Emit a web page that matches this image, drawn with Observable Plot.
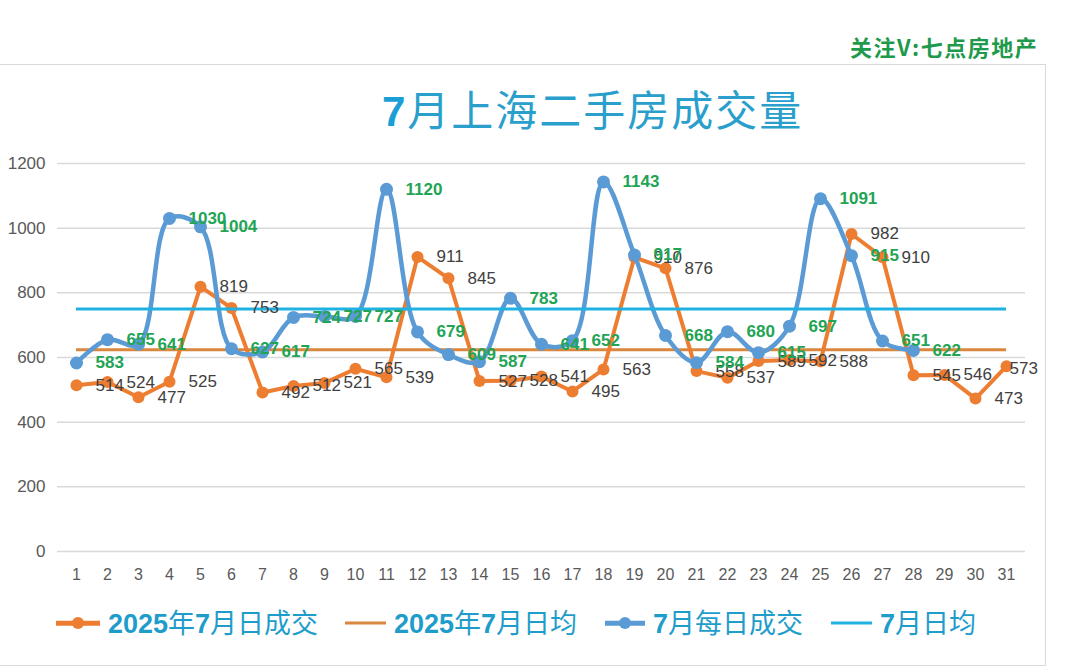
<!DOCTYPE html>
<html>
<head>
<meta charset="utf-8">
<script src="https://cdn.jsdelivr.net/npm/d3@7"></script>
<script src="https://cdn.jsdelivr.net/npm/@observablehq/plot@0.6"></script>
<style>
  html, body { margin: 0; padding: 0; background: #fff; }
  body { width: 1080px; height: 669px; position: relative; overflow: hidden; font-family: "Liberation Sans", Arial, sans-serif; }
  #frame { position: absolute; left: -2px; top: 64px; width: 1048px; height: 602px; border: 1.5px solid #d9d9d9; box-sizing: border-box; }
  #watermark { position: absolute; left: 850px; top: 34px; font-family: "Noto Sans CJK SC", sans-serif; font-weight: 700; font-size: 22px; line-height: 24px; color: #1f9a4c; letter-spacing: 1.5px; white-space: nowrap; }
  #title { position: absolute; left: 382px; top: 86px; font-family: "Noto Sans CJK SC", sans-serif; font-weight: 400; font-size: 42px; line-height: 44px; color: #2a9fcc; letter-spacing: 2px; white-space: nowrap; }
  #title b { font-family: "Liberation Sans", Arial, sans-serif; font-weight: 700; color: #1a9ed6; }
  #chart { position: absolute; left: 0; top: 140px; }
  #legend { position: absolute; left: 0; top: 604px; width: 1080px; height: 38px; }
  .item { position: absolute; top: 0; height: 38px; display: flex; align-items: center; white-space: nowrap; }
  .sym { position: relative; height: 38px; margin-right: 8px; }
  .sym .ln { position: absolute; left: 0; right: 0; top: 50%; transform: translateY(-50%); }
  .sym .dt { position: absolute; left: 50%; top: 50%; width: 12px; height: 12px; border-radius: 50%; transform: translate(-50%, -50%); }
  .lab { font-family: "Noto Sans CJK SC", sans-serif; font-size: 27px; color: #1f9dca; line-height: 38px; }
  .lab b { font-family: "Liberation Sans", Arial, sans-serif; font-weight: 700; }
</style>
</head>
<body>
<div id="frame"></div>
<div id="watermark">关注V:七点房地产</div>
<div id="title"><b>7</b>月上海二手房成交量</div>
<div id="chart"></div>
<div id="legend"></div>
<script>
// ---- data ----
const days = [1,2,3,4,5,6,7,8,9,10,11,12,13,14,15,16,17,18,19,20,21,22,23,24,25,26,27,28,29,30,31];
const deals2025 = [514,524,477,525,819,753,492,512,521,565,539,911,845,527,528,541,495,563,910,876,558,537,589,592,588,982,910,545,546,473,573];
const dealsDaily = [583,655,641,1030,1004,627,617,724,727,727,1120,679,609,587,783,641,652,1143,917,668,584,680,615,697,1091,915,651,622];
const avg2025 = [624];
const avgDaily = [750];
const yTicks = [0,200,400,600,800,1000,1200];
const seriesNames = ["2025年7月日成交", "2025年7月日均", "7月每日成交", "7月日均"];
const colors = { orange: "#ED7D31", orangeAvg: "#D9873E", blue: "#5B9BD5", cyan: "#1FB1E2", grayLabel: "#404040", greenLabel: "#22A455" };

const rows2025 = days.map((d, i) => ({day: d, value: deals2025[i]}));
const rowsDaily = dealsDaily.map((v, i) => ({day: days[i], value: v}));
const lastDay = days[days.length - 1];

const chart = Plot.plot({
  width: 1080,
  height: 470,
  marginTop: 23,
  marginBottom: 59,
  marginLeft: 57,
  marginRight: 55,
  style: { fontFamily: "'Liberation Sans', Arial, sans-serif", background: "transparent" },
  x: { type: "point", domain: days, padding: 0.5, label: null },
  y: { domain: [0, 1200], label: null },
  marks: [
    Plot.gridY(yTicks, { stroke: "#d9d9d9", strokeOpacity: 1, strokeWidth: 1.5 }),
    Plot.axisY(yTicks, { tickSize: 0, tickPadding: 12, fontSize: 17, color: "#595959", label: null, tickFormat: d => String(d) }),
    Plot.axisX(days, { tickSize: 0, tickPadding: 17, fontSize: 16, color: "#595959", label: null, tickFormat: d => String(d) }),
    Plot.ruleY(avg2025, { x1: days[0], x2: lastDay, stroke: colors.orangeAvg, strokeWidth: 3 }),
    Plot.line(rows2025, { x: "day", y: "value", stroke: colors.orange, strokeWidth: 4 }),
    Plot.dot(rows2025, { x: "day", y: "value", r: 6, fill: colors.orange, stroke: null }),
    Plot.line(rowsDaily, { x: "day", y: "value", curve: "catmull-rom", stroke: colors.blue, strokeWidth: 4.5 }),
    Plot.dot(rowsDaily, { x: "day", y: "value", r: 6.5, fill: colors.blue, stroke: null }),
    Plot.ruleY(avgDaily, { x1: days[0], x2: lastDay, stroke: colors.cyan, strokeWidth: 3 }),
    Plot.text(rows2025.filter(d => d.day !== lastDay), { x: "day", y: "value", text: d => String(d.value), dx: 19, textAnchor: "start", fill: colors.grayLabel, fontSize: 17 }),
    Plot.text(rows2025.filter(d => d.day === lastDay), { x: "day", y: "value", text: d => String(d.value), dx: 3, dy: 2, textAnchor: "start", fill: colors.grayLabel, fontSize: 17 }),
    Plot.text(rowsDaily, { x: "day", y: "value", text: d => String(d.value), dx: 19, textAnchor: "start", fill: colors.greenLabel, fontSize: 17, fontWeight: "bold" })
  ]
});
document.getElementById("chart").appendChild(chart);

// ---- legend ----
const legendItems = [
  { name: seriesNames[0], left: 56, w: 44, color: colors.orange, lw: 4.5, dot: true },
  { name: seriesNames[1], left: 345, w: 41, color: colors.orangeAvg, lw: 3, dot: false },
  { name: seriesNames[2], left: 605, w: 40, color: colors.blue, lw: 4.5, dot: true },
  { name: seriesNames[3], left: 831, w: 41, color: colors.cyan, lw: 3, dot: false }
];
const legend = document.getElementById("legend");
for (const it of legendItems) {
  const item = document.createElement("div");
  item.className = "item";
  item.style.left = it.left + "px";
  const sym = document.createElement("div");
  sym.className = "sym";
  sym.style.width = it.w + "px";
  const ln = document.createElement("div");
  ln.className = "ln";
  ln.style.height = it.lw + "px";
  ln.style.background = it.color;
  sym.appendChild(ln);
  if (it.dot) {
    const dt = document.createElement("div");
    dt.className = "dt";
    dt.style.background = it.color;
    sym.appendChild(dt);
  }
  item.appendChild(sym);
  const lab = document.createElement("span");
  lab.className = "lab";
  lab.innerHTML = it.name.replace(/(\d+)/g, "<b>$1</b>");
  item.appendChild(lab);
  legend.appendChild(item);
}
</script>
</body>
</html>
